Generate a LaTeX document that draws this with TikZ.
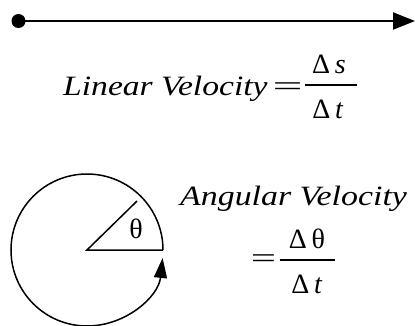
\documentclass[tikz,border=0pt]{standalone}
\usepackage{fontspec}
\setmainfont{Liberation Serif}
\usetikzlibrary{arrows.meta,calc}
\tikzset{
  wide/.style={inner sep=0pt, anchor=base west, font=\fontsize{28}{32}\selectfont\itshape},
  num/.style={inner sep=0pt, anchor=base, font=\fontsize{28}{32}\selectfont},
  line/.style={line width=1.5pt, black},
  bar/.style={line width=2.5pt, black}
}
\begin{document}
\begin{tikzpicture}[x=1pt,y=1pt]
\useasboundingbox (0,0) rectangle (415,325);
% top arrow
\coordinate (start) at (18.5,304);
\coordinate (end) at (415,304);
\fill (start) circle (7);
\draw[line width=2pt, -{Triangle[length=22pt,width=17pt]}] (start) -- (end);
% linear velocity
\node[wide] (lin) at (63,230) {\scalebox{1.2}[1]{Linear Velocity}};
\node[num] (eq1) at (287.5,230) {\scalebox{1.9}[1]{=}};
\coordinate (b1a) at (305,240);
\coordinate (b1b) at (357,240);
\draw[bar] (b1a) -- (b1b);
\node[num] (ds) at (329,252) {Δ\,\textit{s}};
\node[num] (dt) at (328,207) {Δ\,\textit{t}};
% circle
\coordinate (c) at (87,75);
\coordinate (rim) at (163,75);
\coordinate (diag) at ($(c)+(44.4:70)$);
\draw[line, -{Triangle[length=20pt,width=13pt]}] (rim) arc[start angle=0, end angle=354, radius=76];
\draw[line] (diag) -- (c) -- (rim);
\node[num] (th) at (136,87) {θ};
% angular velocity
\node[wide] (ang) at (180,120) {\scalebox{1.21}[1]{Angular Velocity}};
\node[num] (eq2) at (263.5,58) {\scalebox{1.6}[1]{=}};
\coordinate (b2a) at (280,65);
\coordinate (b2b) at (335,65);
\draw[bar] (b2a) -- (b2b);
\node[num] (dth) at (307,77) {Δ\,θ};
\node[num] (dt2) at (307,32) {Δ\,\textit{t}};
\end{tikzpicture}
\end{document}
